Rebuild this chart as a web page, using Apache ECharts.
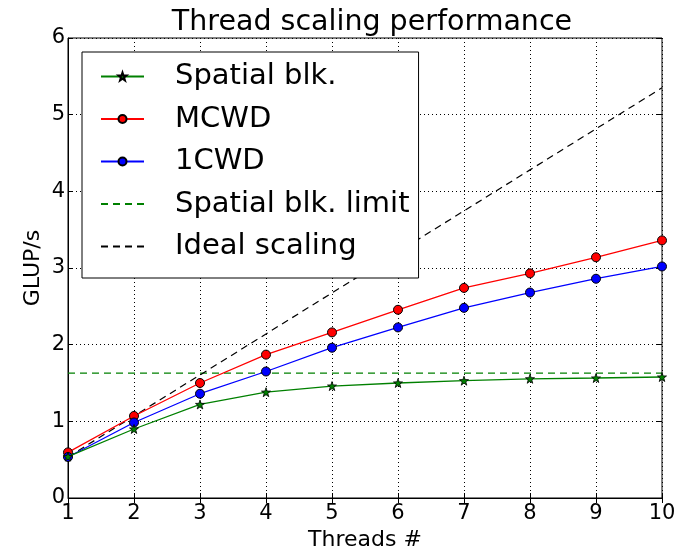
<!DOCTYPE html>
<html>
<head>
<meta charset="utf-8">
<script src="https://cdn.jsdelivr.net/npm/echarts@6/dist/echarts.min.js"></script>
<style>
  html, body { margin: 0; padding: 0; background: #fff; }
  #chart { width: 688px; height: 550px; }
</style>
</head>
<body>
<div id="chart"></div>
<script>
// values
var threads = [1, 2, 3, 4, 5, 6, 7, 8, 9, 10];
var spatialBlk = [0.54, 0.90, 1.22, 1.38, 1.46, 1.50, 1.53, 1.555, 1.565, 1.578];
var mcwd = [0.595, 1.07, 1.50, 1.87, 2.16, 2.455, 2.74, 2.93, 3.14, 3.36];
var oneCwd = [0.535, 0.985, 1.36, 1.65, 1.96, 2.225, 2.48, 2.68, 2.86, 3.02];
var spatialLimit = [1.63, 1.63, 1.63, 1.63, 1.63, 1.63, 1.63, 1.63, 1.63, 1.63];
var idealScaling = [0.535, 1.07, 1.605, 2.14, 2.675, 3.21, 3.745, 4.28, 4.815, 5.35];
var seriesNames = ["Spatial blk.", "MCWD", "1CWD", "Spatial blk. limit", "Ideal scaling"];

function pairs(ys) {
  return threads.map(function (t, i) { return [t, ys[i]]; });
}

var chart = echarts.init(document.getElementById("chart"));
var font = "DejaVu Sans";
var star = "path://M0,-10 L2.35,-3.24 L9.51,-3.09 L3.8,1.24 L5.88,8.09 L0,4 L-5.88,8.09 L-3.8,1.24 L-9.51,-3.09 L-2.35,-3.24 Z";

var option = {
  animation: false,
  textStyle: { fontFamily: font },
  title: {
    text: "Thread scaling performance",
    left: 367,
    textAlign: "center",
    top: 3,
    textStyle: { fontFamily: font, fontSize: 28.5, fontWeight: "normal", color: "#000" }
  },
  legend: {
    orient: "vertical",
    left: 82,
    top: 52,
    padding: [10, 9, 17, 18],
    itemGap: 13.5,
    itemWidth: 43,
    itemHeight: 10,
    borderColor: "#000",
    borderWidth: 1,
    backgroundColor: "#fff",
    textStyle: { fontFamily: font, fontSize: 29, lineHeight: 29, color: "#000", padding: [0, 0, 0, 26] },
    data: [
      { name: seriesNames[0] },
      { name: seriesNames[1] },
      { name: seriesNames[2] },
      { name: seriesNames[3], itemStyle: { opacity: 0 } },
      { name: seriesNames[4], itemStyle: { opacity: 0 } }
    ]
  },
  grid: {
    left: 68,
    right: 26,
    top: 38,
    bottom: 52,
    outerBoundsMode: "none",
    show: true,
    borderColor: "#000",
    borderWidth: 1
  },
  xAxis: [
    {
      type: "value",
      min: 1, max: 10, interval: 1,
      name: "Threads #",
      nameLocation: "middle",
      nameGap: 29,
      nameTextStyle: { fontFamily: font, fontSize: 22, color: "#000" },
      axisLine: { show: true, lineStyle: { color: "#000" } },
      axisTick: { show: true, inside: true, length: 5, lineStyle: { color: "#000" } },
      axisLabel: { fontFamily: font, fontSize: 21, color: "#000", margin: 5 },
      splitLine: { show: true, lineStyle: { color: "#000", type: [1, 3], width: 1 } }
    },
    {
      type: "value", position: "top",
      min: 1, max: 10, interval: 1,
      axisLine: { show: false },
      axisTick: { show: true, inside: true, length: 5, lineStyle: { color: "#000" } },
      axisLabel: { show: false },
      splitLine: { show: false }
    }
  ],
  yAxis: [
    {
      type: "value",
      min: 0, max: 6, interval: 1,
      name: "GLUP/s",
      nameLocation: "middle",
      nameGap: 24,
      nameMoveOverlap: false,
      nameTextStyle: { fontFamily: font, fontSize: 22, color: "#000" },
      axisLine: { show: true, lineStyle: { color: "#000" } },
      axisTick: { show: true, inside: true, length: 5, lineStyle: { color: "#000" } },
      axisLabel: { fontFamily: font, fontSize: 21, color: "#000", margin: 3 },
      splitLine: { show: true, lineStyle: { color: "#000", type: [1, 3], width: 1 } }
    },
    {
      type: "value", position: "right",
      min: 0, max: 6, interval: 1,
      axisLine: { show: false },
      axisTick: { show: true, inside: true, length: 5, lineStyle: { color: "#000" } },
      axisLabel: { show: false },
      splitLine: { show: false }
    }
  ],
  series: [
    {
      name: seriesNames[0],
      type: "line",
      data: pairs(spatialBlk),
      symbol: star,
      symbolSize: 9,
      z: 4,
      lineStyle: { color: "#008000", width: 1.3 },
      itemStyle: { color: "#008000", borderColor: "#000", borderWidth: 0.8 }
    },
    {
      name: seriesNames[1],
      type: "line",
      data: pairs(mcwd),
      symbol: "circle",
      symbolSize: 9,
      z: 3,
      lineStyle: { color: "#ff0000", width: 1.3 },
      itemStyle: { color: "#ff0000", borderColor: "#000", borderWidth: 1 }
    },
    {
      name: seriesNames[2],
      type: "line",
      data: pairs(oneCwd),
      symbol: "circle",
      symbolSize: 9,
      z: 3,
      lineStyle: { color: "#0000ff", width: 1.3 },
      itemStyle: { color: "#0000ff", borderColor: "#000", borderWidth: 1 }
    },
    {
      name: seriesNames[3],
      type: "line",
      data: pairs(spatialLimit),
      showSymbol: false,
      symbol: "none",
      z: 2,
      lineStyle: { color: "#008000", width: 1.2, type: [7, 5] },
      itemStyle: { color: "#008000" }
    },
    {
      name: seriesNames[4],
      type: "line",
      data: pairs(idealScaling),
      showSymbol: false,
      symbol: "none",
      z: 2,
      lineStyle: { color: "#000", width: 1.2, type: [7, 5] },
      itemStyle: { color: "#000" }
    }
  ]
};

chart.setOption(option);
</script>
</body>
</html>
